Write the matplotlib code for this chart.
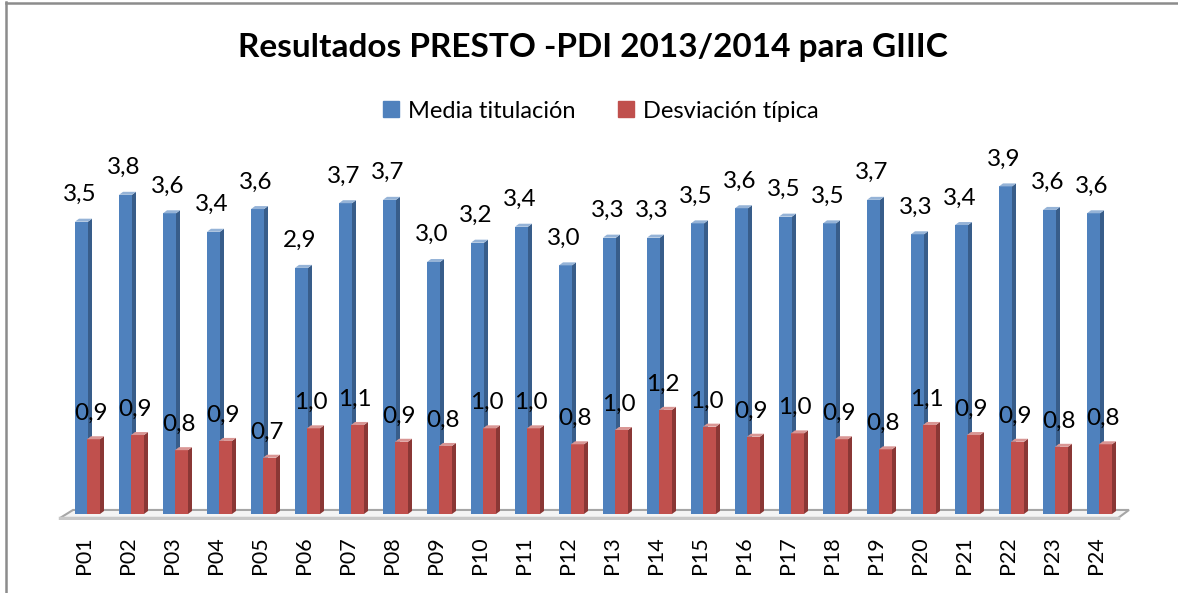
import numpy as np
import matplotlib
matplotlib.use("Agg")
import matplotlib.pyplot as plt
from matplotlib.patches import Polygon, Patch
from matplotlib.lines import Line2D

plt.rcParams['font.family'] = ['Lato', 'DejaVu Sans']

# datos
preguntas = ['P%02d' % i for i in range(1, 25)]
media = [3.48, 3.80, 3.58, 3.36, 3.63, 2.93, 3.70, 3.74, 3.00, 3.23, 3.42, 2.96,
         3.29, 3.29, 3.46, 3.64, 3.54, 3.46, 3.74, 3.33, 3.44, 3.90, 3.62, 3.58]
desviacion = [0.89, 0.94, 0.76, 0.87, 0.67, 1.02, 1.06, 0.86, 0.81, 1.02, 1.02, 0.83,
              1.00, 1.24, 1.04, 0.92, 0.96, 0.89, 0.77, 1.06, 0.94, 0.86, 0.80, 0.83]
series = ['Media titulación', 'Desviación típica']

azul = ('#4F81BD', '#385D8A', '#95B3D7')
rojo = ('#C0504D', '#8A3735', '#D99694')

W, H = 1178, 593
fig = plt.figure(figsize=(W / 100, H / 100), dpi=100)
ax = fig.add_axes([40 / W, (H - 520) / H, 1100 / W, 380 / H])
ax.set_xlim(-1, 24)
ax.set_ylim(-6 / 84, 374 / 84)

x = np.arange(len(preguntas))
bw = 13 / 44.0
dx, dy = 4 / 44.0, 3 / 84.0


def barras3d(xs, hs, cols, z):
    ax.bar(xs, hs, width=bw, align='edge', color=cols[0], zorder=z, linewidth=0)
    for x0, h in zip(xs, hs):
        x1 = x0 + bw
        ax.add_patch(Polygon([(x1, 0), (x1 + dx, dy), (x1 + dx, h + dy), (x1, h)],
                             closed=True, fc=cols[1], ec='none', zorder=z))
        ax.add_patch(Polygon([(x0, h), (x1, h), (x1 + dx, h + dy), (x0 + dx, h + dy)],
                             closed=True, fc=cols[2], ec='none', zorder=z))


# suelo
ax.add_patch(Polygon([(-0.545, -0.048), (23.5, -0.048), (23.75, 0.048), (-0.25, 0.048)],
                     closed=True, fc='#F4F4F4', ec='#A6A6A6', lw=1.5, zorder=1))
ax.plot([-0.545, 23.5], [-0.048, -0.048], color='#C8C8C8', lw=2.5, zorder=1)

xb = x - 9 / 44.0
xr = x + 3 / 44.0
barras3d(xb, media, azul, 2)
barras3d(xr, desviacion, rojo, 3)

for xi, v in zip(xb + bw / 2, media):
    ax.annotate(('%.1f' % v).replace('.', ','), (xi - 0.05, v), xytext=(0, 12),
                textcoords='offset points', ha='center', va='bottom', fontsize=17.5, zorder=6)
for xi, v in zip(xr + bw / 2, desviacion):
    ax.annotate(('%.1f' % v).replace('.', ','), (xi - 0.05, v), xytext=(0, 11),
                textcoords='offset points', ha='center', va='bottom', fontsize=17.5, zorder=6)

ax.set_xticks(x)
ax.set_xticklabels(preguntas, rotation=90, fontsize=15.5)
ax.tick_params(axis='x', length=0, pad=12)
ax.set_yticks([])
for s in ax.spines.values():
    s.set_visible(False)
ax.patch.set_alpha(0)

fig.text(593 / W, 1 - 48 / H, 'Resultados PRESTO -PDI 2013/2014 para GIIIC',
         ha='center', va='center', fontsize=24, fontweight='bold')

handles = [Patch(color=azul[0]), Patch(color=rojo[0])]
fig.legend(handles, series, loc='center', bbox_to_anchor=(601 / W, 1 - 111 / H),
           ncol=2, frameon=False, fontsize=17, handlelength=0.65, handleheight=0.65,
           handletextpad=0.4, columnspacing=1.8)

# marco
fig.add_artist(Line2D([5.5 / W, 5.5 / W], [0, 1 - 2 / H], color='#8C8C8C', lw=1.8))
fig.add_artist(Line2D([5.5 / W, 1], [1 - 3 / H, 1 - 3 / H], color='#8C8C8C', lw=1.8))

fig.savefig('out.png', dpi=100)
